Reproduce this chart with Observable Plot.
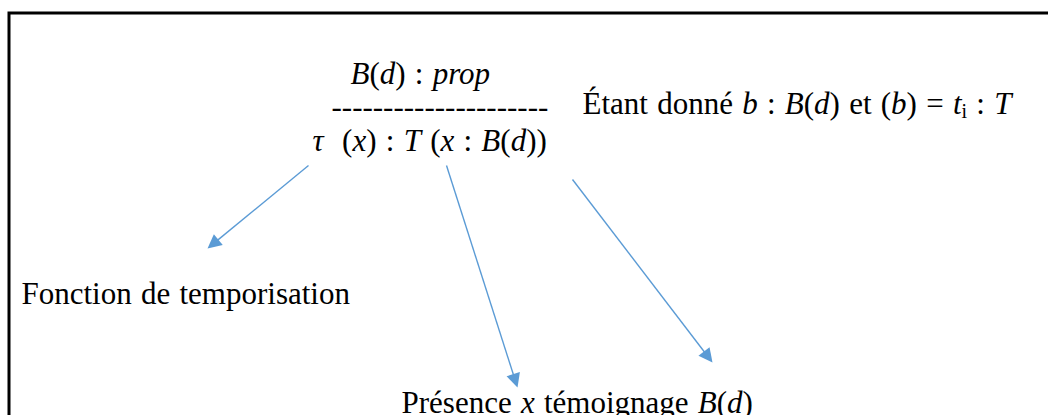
<!DOCTYPE html>
<html>
<head>
<meta charset="utf-8">
<script src="https://cdn.jsdelivr.net/npm/d3@7"></script>
<script src="https://cdn.jsdelivr.net/npm/@observablehq/plot@0.6"></script>
<style>
  html, body { margin: 0; padding: 0; background: #fff; }
  #chart { width: 1048px; height: 415px; overflow: hidden; }
</style>
</head>
<body>
<div id="chart"></div>
<script>
// Diagram labels (markup: *italic*, _subscript_)
const labelMarkup = [
  "*B*(*d*) : *prop*",
  "---------------------",
  "*τ*\u00a0 (*x*) : *T* (*x* : *B*(*d*))",
  "Étant donné *b* : *B*(*d*) et (*b*) = *t*_i_ : *T*",
  "Fonction de temporisation",
  "Présence *x* témoignage *B*(*d*)"
];
const labelX = [350, 331, 312, 582, 21, 401];
const labelY = [83, 116, 150, 113, 303, 412];

// Arrows (start -> tip)
const arrowX1 = [308, 446, 572];
const arrowY1 = [165, 165, 179];
const arrowX2 = [207, 517, 712];
const arrowY2 = [248, 387, 362];

const headLength = 14;
const arrowColor = "#5B9BD5";
const serif = "Liberation Serif";

const labels = labelMarkup.map((m, i) => ({
  markup: m,
  plain: m.replace(/[*_]/g, ""),
  x: labelX[i],
  y: labelY[i]
}));

const arrows = arrowX1.map((x1, i) => {
  const dx = arrowX2[i] - x1, dy = arrowY2[i] - arrowY1[i];
  const len = Math.hypot(dx, dy);
  return {
    x1, y1: arrowY1[i], x2: arrowX2[i], y2: arrowY2[i],
    bx: arrowX2[i] - dx / len * (headLength - 2),
    by: arrowY2[i] - dy / len * (headLength - 2),
    angle: Math.atan2(dx, -dy) * 180 / Math.PI
  };
});

const chart = Plot.plot({
  width: 1048,
  height: 415,
  margin: 0,
  style: { background: "#fff", fontFamily: serif },
  x: { domain: [0, 1048], range: [0, 1048], axis: null },
  y: { domain: [0, 415], range: [0, 415], axis: null },
  marks: [
    Plot.frame({ stroke: "#000", strokeWidth: 3, insetLeft: 8.5, insetTop: 12.5, insetRight: -10, insetBottom: -10 }),
    Plot.link(arrows, { x1: "x1", y1: "y1", x2: "bx", y2: "by", stroke: arrowColor, strokeWidth: 1.4 }),
    Plot.vector(arrows, { x: "x2", y: "y2", rotate: "angle", length: headLength, shape: "spike", r: 7, anchor: "end", fill: arrowColor, stroke: "none" }),
    Plot.text(labels, {
      x: "x", y: "y", text: "plain",
      textAnchor: "start", lineAnchor: "bottom",
      fontFamily: serif,
      fontSize: 31, fill: "#000"
    })
  ]
});

document.getElementById("chart").appendChild(chart);

// Rich text: italics and subscripts (only where markup is present)
const SVGNS = "http://www.w3.org/2000/svg";
const texts = chart.querySelectorAll('g[aria-label="text"] text');
texts.forEach((el, i) => {
  el.setAttribute("word-spacing", "1.5");
  const markup = labels[i].markup;
  if (!/[*_]/.test(markup)) return;
  const parts = markup.split(/(\*[^*]+\*|_[^_]+_)/).filter(s => s.length);
  while (el.firstChild) el.removeChild(el.firstChild);
  let lowered = false;
  for (const p of parts) {
    const ts = document.createElementNS(SVGNS, "tspan");
    if (p.startsWith("*")) {
      ts.textContent = p.slice(1, -1);
      ts.setAttribute("font-style", "italic");
      if (lowered) { ts.setAttribute("dy", "-4"); lowered = false; }
    } else if (p.startsWith("_")) {
      ts.textContent = p.slice(1, -1);
      ts.setAttribute("font-size", "20");
      ts.setAttribute("dy", "4");
      lowered = true;
    } else {
      ts.textContent = p;
      if (lowered) { ts.setAttribute("dy", "-4"); lowered = false; }
    }
    el.appendChild(ts);
  }
});
</script>
</body>
</html>
